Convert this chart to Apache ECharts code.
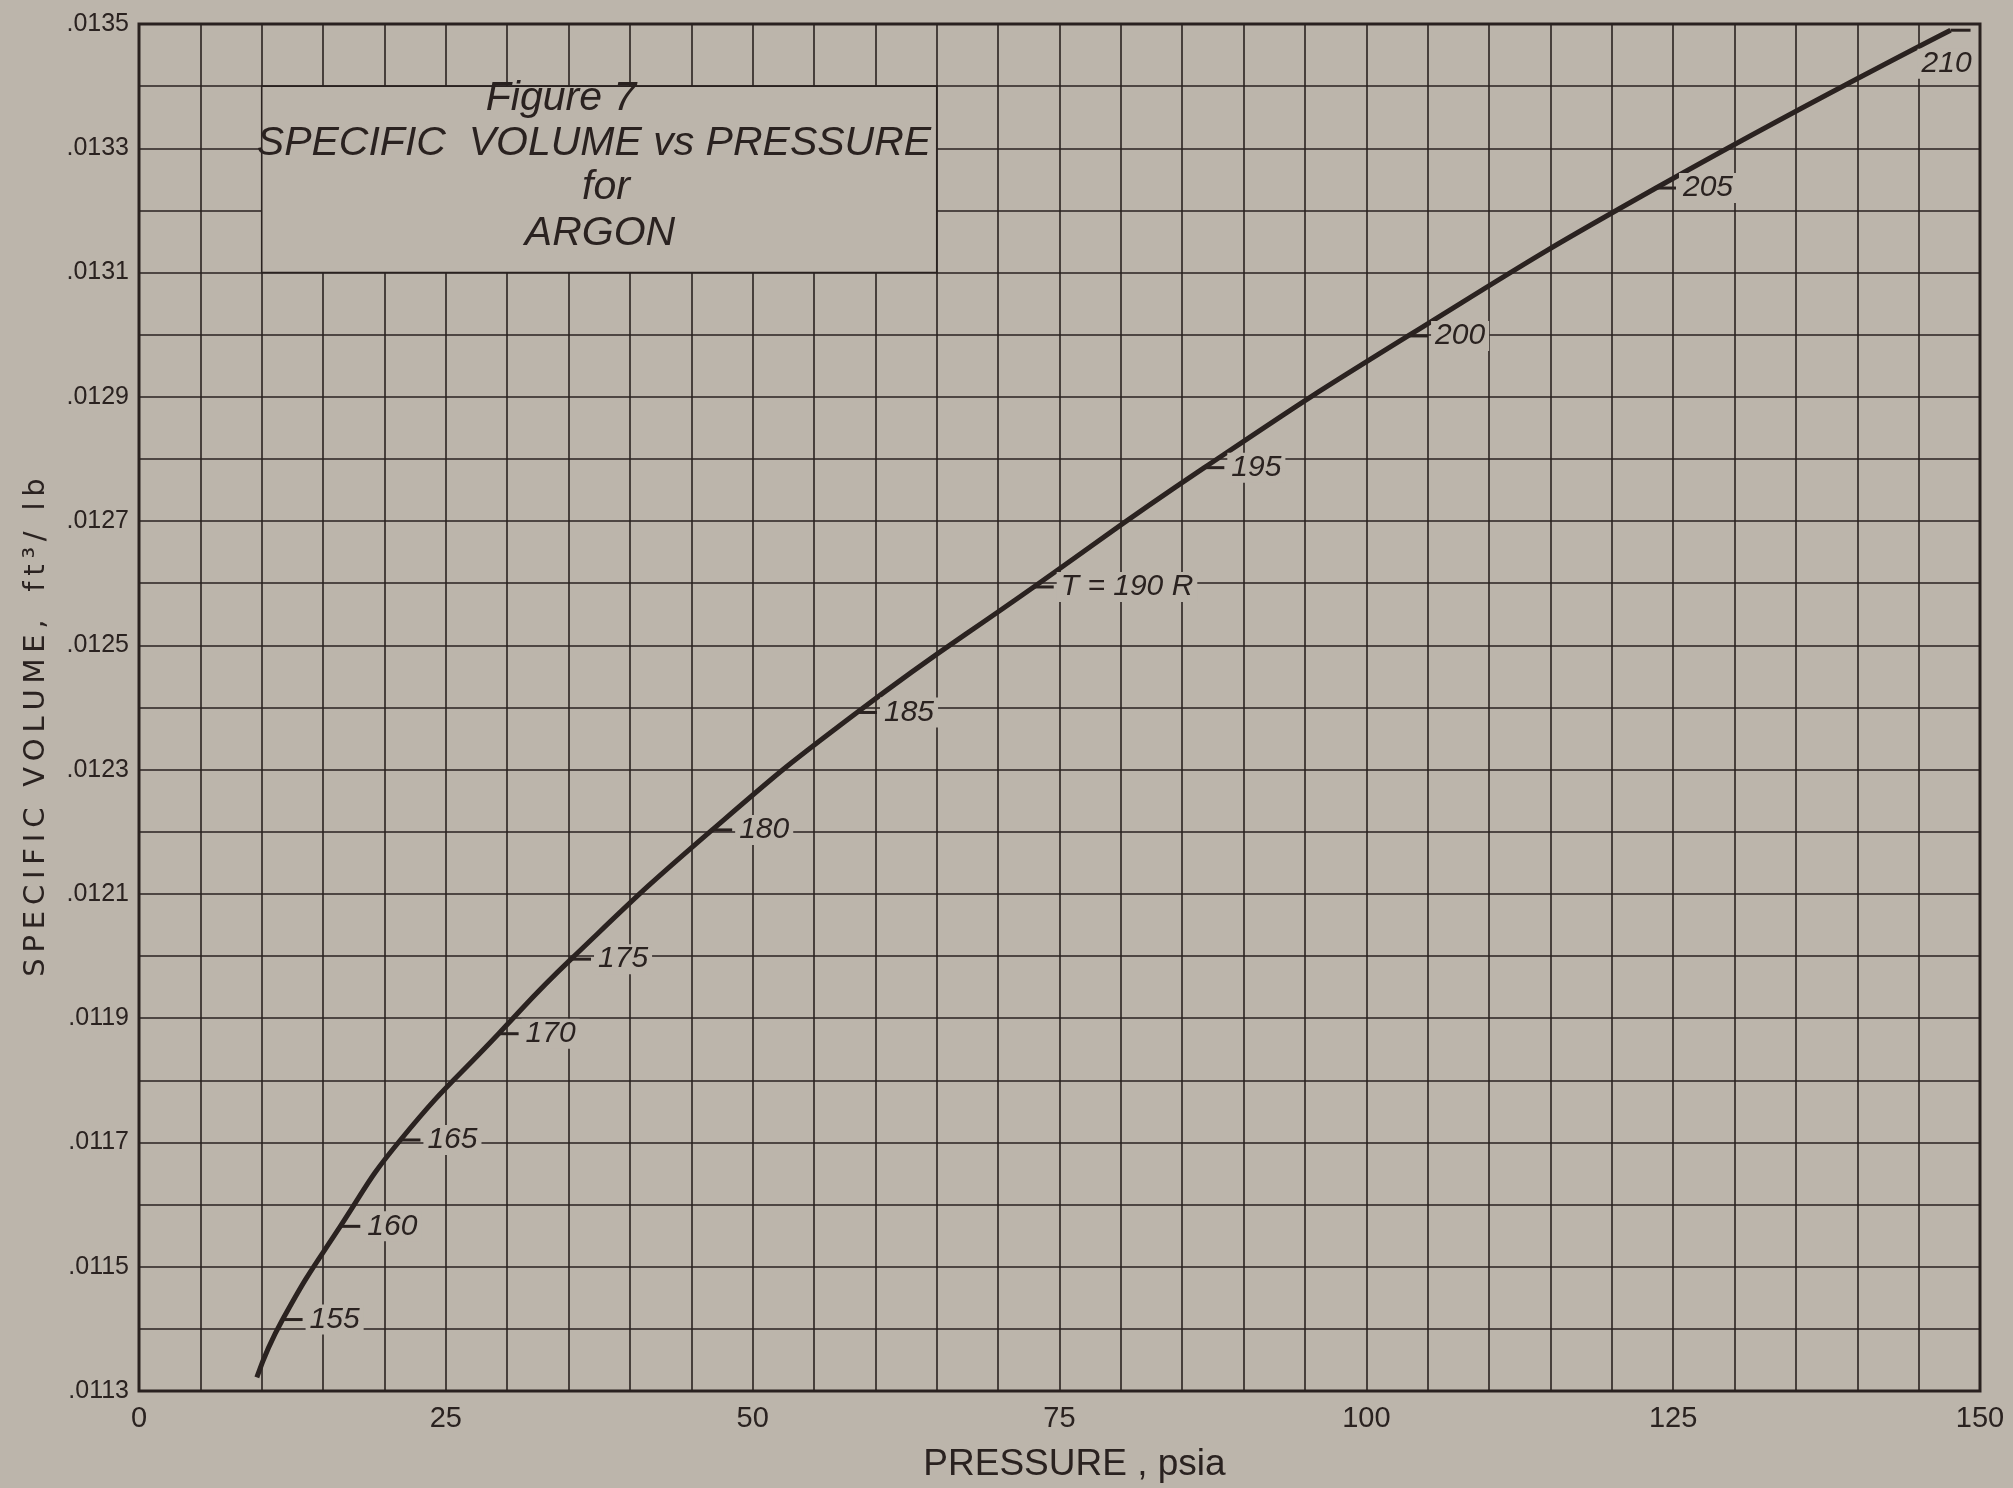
<!DOCTYPE html>
<html>
<head>
<meta charset="utf-8">
<script src="https://cdn.jsdelivr.net/npm/echarts@6/dist/echarts.min.js"></script>
<style>
  html, body { margin: 0; padding: 0; background: #bcb5ab; }
  #chart { width: 2013px; height: 1488px; }
</style>
</head>
<body>
<div id="chart"></div>
<script>
// curve: pressure (psia) -> specific volume (ft3/lb)
var pressure = [9.6, 11.7, 16.4, 21.3, 29.3, 35.2, 46.7, 58.5, 72.9, 86.8, 103.4, 123.6, 147.6];
var volume = [0.011322, 0.011415, 0.011565, 0.011704, 0.011875, 0.011995, 0.012203, 0.012392, 0.012594, 0.012786, 0.012998, 0.013236, 0.01349];

// temperature marks along the curve
var tempLabels = ['155', '160', '165', '170', '175', '180', '185', 'T = 190 R', '195', '200', '205', '210'];
var tempP = [11.7, 16.4, 21.3, 29.3, 35.2, 46.7, 58.5, 72.9, 86.8, 103.4, 123.6, 147.6];
var tempV = [0.011415, 0.011565, 0.011704, 0.011875, 0.011995, 0.012203, 0.012392, 0.012594, 0.012786, 0.012998, 0.013236, 0.01349];

// axis ranges
var xMin = 0, xMax = 150, xStep = 5;
var yMin = 0.0113, yMax = 0.0135, yStep = 0.0001;

var paper = '#bcb5ab';
var ink = '#2a2220';
var sans = '"Liberation Sans", Arial, sans-serif';

// spread the letters of the y axis title a little, like the hand lettering
function spaced(s) {
    return s.split('').join('\u2009');
}

var myChart = echarts.init(document.getElementById('chart'));

var curve = pressure.map(function (p, i) { return [p, volume[i]]; });
var marks = tempP.map(function (p, i) {
    var d = { value: [p, tempV[i]], name: tempLabels[i] };
    if (tempLabels[i] === '210') {
        d.label = { position: 'bottom', distance: 4, offset: [-14, 13] };
    }
    return d;
});

var titleFont = 'italic 41px ' + sans;

var option = {
    backgroundColor: paper,
    animation: false,
    grid: {
        left: 139, right: 33, top: 24, bottom: 96,
        show: true, borderColor: ink, borderWidth: 3, backgroundColor: 'transparent'
    },
    xAxis: {
        type: 'value', min: xMin, max: xMax, interval: xStep,
        name: 'PRESSURE , psia', nameLocation: 'middle', nameGap: 55,
        nameTextStyle: { fontFamily: sans, fontSize: 37, color: ink, padding: [0, 0, 0, 30] },
        axisLine: { show: false }, axisTick: { show: false },
        axisLabel: {
            margin: 13, fontFamily: sans, fontSize: 29, color: ink,
            formatter: function (v) { return v % 25 === 0 ? String(v) : ''; }
        },
        splitLine: { lineStyle: { color: ink, width: 1.6 } }
    },
    yAxis: {
        type: 'value', min: yMin, max: yMax, interval: yStep,
        name: spaced('SPECIFIC VOLUME,') + '   ' + spaced('ft\u00b3/ lb'),
        nameLocation: 'middle', nameGap: 88, nameRotate: 90,
        nameTextStyle: { fontFamily: '"DejaVu Sans", sans-serif', fontSize: 29, color: ink, padding: [0, 40, 0, 0] },
        axisLine: { show: false }, axisTick: { show: false },
        axisLabel: {
            margin: 10, fontFamily: sans, fontSize: 25, color: ink,
            formatter: function (v) {
                var n = Math.round(v * 1e4);
                return n % 2 === 1 ? '.0' + n : '';
            }
        },
        splitLine: { lineStyle: { color: ink, width: 1.6 } }
    },
    graphic: [
        { type: 'text', x: 561, y: 99, z: 100, style: { text: 'Figure 7', font: titleFont, fill: ink, align: 'center', verticalAlign: 'middle' } },
        { type: 'text', x: 594, y: 144, z: 100, style: { text: 'SPECIFIC  VOLUME vs PRESSURE', font: titleFont, fill: ink, align: 'center', verticalAlign: 'middle' } },
        { type: 'text', x: 606, y: 188, z: 100, style: { text: 'for', font: titleFont, fill: ink, align: 'center', verticalAlign: 'middle' } },
        { type: 'text', x: 600, y: 234, z: 100, style: { text: 'ARGON', font: titleFont, fill: ink, align: 'center', verticalAlign: 'middle' } }
    ],
    series: [
        {
            type: 'line', data: curve, smooth: true, showSymbol: false,
            lineStyle: { color: ink, width: 5 },
            // blank box on the grid holding the figure title
            markArea: {
                silent: true,
                itemStyle: { color: paper, borderColor: ink, borderWidth: 1.6 },
                data: [[{ coord: [10, 0.0134] }, { coord: [65, 0.0131] }]]
            },
            z: 3
        },
        {
            type: 'scatter', data: marks,
            symbol: 'rect', symbolSize: [20, 3], symbolOffset: [10, 0],
            itemStyle: { color: ink, opacity: 1 },
            label: {
                show: true, position: 'right', distance: 3,
                formatter: '{b}',
                fontFamily: sans, fontStyle: 'italic', fontSize: 30, color: ink,
                backgroundColor: paper, padding: [0, 4]
            },
            z: 4
        }
    ]
};

myChart.setOption(option);
window.addEventListener('resize', function () {
    myChart.resize();
});
</script>
</body>
</html>
